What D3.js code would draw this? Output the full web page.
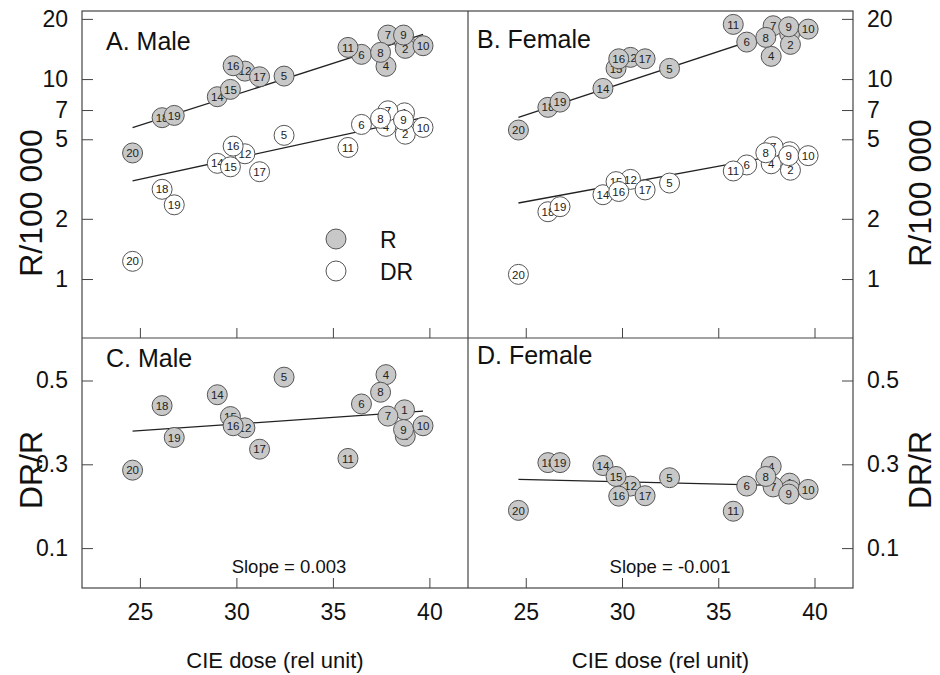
<!DOCTYPE html>
<html>
<head>
<meta charset="utf-8">
<script src="https://cdn.jsdelivr.net/npm/d3@7"></script>
<style>
  body { margin: 0; background: #fff; }
  svg { font-family: "Liberation Sans", Arial, sans-serif; }
  .tick line { stroke: #444; stroke-width: 1; }
  .tick text { fill: #111; }
</style>
</head>
<body>
<div id="chart"></div>
<script>
// region numbers and CIE dose (rel unit)
var region = [1, 2, 4, 5, 6, 7, 8, 9, 10, 11, 12, 14, 15, 16, 17, 18, 19, 20];
var dose = [38.71, 38.75, 37.75, 32.47, 36.48, 37.85, 37.47, 38.66, 39.67, 35.78, 30.44, 29.01, 29.69, 29.83, 31.2, 26.15, 26.78, 24.62];

// R/100 000
var maleR = [15.37, 14.24, 11.58, 10.35, 13.29, 16.6, 13.6, 16.6, 14.68, 14.4, 10.96, 8.16, 8.88, 11.66, 10.27, 6.41, 6.58, 4.27];
var maleDR = [6.78, 5.3, 5.8, 5.23, 5.93, 6.94, 6.36, 6.24, 5.73, 4.55, 4.23, 3.79, 3.64, 4.62, 3.44, 2.81, 2.35, 1.226];
var femaleR = [16.9, 14.91, 12.99, 11.31, 15.31, 18.48, 16.16, 18.26, 17.78, 18.77, 12.84, 8.98, 11.31, 12.63, 12.63, 7.22, 7.67, 5.56];
var femaleDR = [4.33, 3.5, 3.77, 3.02, 3.72, 4.59, 4.28, 4.14, 4.14, 3.47, 3.15, 2.64, 3.07, 2.74, 2.79, 2.17, 2.3, 1.055];

// DR/R
var maleRatio = [0.43, 0.367, 0.514, 0.508, 0.444, 0.415, 0.472, 0.383, 0.392, 0.314, 0.387, 0.466, 0.414, 0.392, 0.336, 0.44, 0.364, 0.286];
var femaleRatio = [0.255, 0.238, 0.295, 0.268, 0.248, 0.246, 0.271, 0.229, 0.24, 0.188, 0.248, 0.297, 0.271, 0.224, 0.225, 0.304, 0.304, 0.19];

// regression lines (value at both ends of fitDose)
var fitDose = [24.62, 39.67];
var fitMaleR = [5.71, 16.73];
var fitMaleDR = [3.1, 6.41];
var fitFemaleR = [6.44, 19.3];
var fitFemaleDR = [2.4, 4.43];
var fitMaleRatio = [0.379, 0.427];
var fitFemaleRatio = [0.264, 0.2476];

var xTicks = [25, 30, 35, 40];
var rateTicks = [1, 2, 5, 7, 10, 20];
var ratioTicks = [0.1, 0.3, 0.5];

var width = 940, height = 675;
var padL = 82, padMid = 468, padR = 853, padT = 11, padMidY = 338, padB = 588;

var svg = d3.select("#chart")
  .append("svg")
  .attr("width", width)
  .attr("height", height)
  .style("background", "#fff");

var xL = d3.scaleLinear().domain([22, 42]).range([padL, padMid]);
var xR = d3.scaleLinear().domain([22, 42]).range([padMid, padR]);
var yTop = d3.scaleLog().domain([0.507, 21.9]).range([padMidY, padT]);
var yBot = d3.scaleLinear().domain([0, 0.6]).range([590, 338.6]);

var greyFill = "#c8c8c8";

var panels = [
  { x: xL, y: yTop, label: "A. Male", lx: 106, ly: 50,
    series: [{ v: maleR, fill: greyFill }, { v: maleDR, fill: "#fff" }],
    fits: [fitMaleR, fitMaleDR] },
  { x: xR, y: yTop, label: "B. Female", lx: 477, ly: 48,
    series: [{ v: femaleR, fill: greyFill }, { v: femaleDR, fill: "#fff" }],
    fits: [fitFemaleR, fitFemaleDR] },
  { x: xL, y: yBot, label: "C. Male", lx: 106, ly: 367, slope: "Slope = 0.003", sx: 289,
    series: [{ v: maleRatio, fill: greyFill }],
    fits: [fitMaleRatio] },
  { x: xR, y: yBot, label: "D. Female", lx: 477, ly: 364, slope: "Slope = -0.001", sx: 670,
    series: [{ v: femaleRatio, fill: greyFill }],
    fits: [fitFemaleRatio] }
];

// frames
svg.append("rect")
  .attr("x", padL).attr("y", padT)
  .attr("width", padR - padL).attr("height", padB - padT)
  .attr("fill", "none").attr("stroke", "#444").attr("stroke-width", 1.2);
svg.append("line")
  .attr("x1", padMid).attr("x2", padMid).attr("y1", padT).attr("y2", padB)
  .attr("stroke", "#444").attr("stroke-width", 1.2);
svg.append("line")
  .attr("x1", padL).attr("x2", padR).attr("y1", padMidY).attr("y2", padMidY)
  .attr("stroke", "#444").attr("stroke-width", 1.2);

// y axes, ticks pointing inwards
function yAxis(axis, scale, ticks, xpos, fmt) {
  var g = svg.append("g")
    .attr("transform", "translate(" + xpos + ",0)")
    .call(axis(scale).tickValues(ticks).tickSizeInner(-11).tickSizeOuter(0)
      .tickPadding(14).tickFormat(fmt))
    .style("font-size", "23px");
  g.select(".domain").remove();
  g.selectAll("text").attr("font-family", "Liberation Sans, Arial, sans-serif");
}
yAxis(d3.axisLeft, yTop, rateTicks, padL, d3.format("d"));
yAxis(d3.axisRight, yTop, rateTicks, padR, d3.format("d"));
yAxis(d3.axisLeft, yBot, ratioTicks, padL, d3.format(".1f"));
yAxis(d3.axisRight, yBot, ratioTicks, padR, d3.format(".1f"));

// x axes
[xL, xR].forEach(function(sc) {
  var g = svg.append("g")
    .attr("transform", "translate(0," + padB + ")")
    .call(d3.axisBottom(sc).tickValues(xTicks).tickSizeInner(-10).tickSizeOuter(0).tickPadding(16))
    .style("font-size", "23px");
  g.select(".domain").remove();
  g.selectAll("text").attr("font-family", "Liberation Sans, Arial, sans-serif");

  var g2 = svg.append("g")
    .attr("transform", "translate(0," + padMidY + ")")
    .call(d3.axisBottom(sc).tickValues(xTicks).tickSizeInner(-10).tickSizeOuter(0).tickFormat(""));
  g2.select(".domain").remove();

  svg.append("text")
    .attr("x", (sc.range()[0] + sc.range()[1]) / 2)
    .attr("y", 668)
    .attr("text-anchor", "middle")
    .style("font-size", "22px")
    .attr("fill", "#111")
    .text("CIE dose (rel unit)");
});

// axis titles
function yTitle(x, y, txt) {
  svg.append("text")
    .attr("transform", "translate(" + x + "," + y + ") rotate(-90)")
    .attr("text-anchor", "middle")
    .style("font-size", "32px")
    .attr("fill", "#111")
    .text(txt);
}
yTitle(42, 203, "R/100 000");
yTitle(42, 470, "DR/R");
yTitle(931, 193, "R/100 000");
yTitle(931, 470, "DR/R");

var line = d3.line();

panels.forEach(function(p) {
  var g = svg.append("g");

  p.fits.forEach(function(f) {
    g.append("path")
      .attr("d", line(fitDose.map(function(d, i) { return [p.x(d), p.y(f[i])]; })))
      .attr("fill", "none")
      .attr("stroke", "#222")
      .attr("stroke-width", 1.3);
  });

  p.series.forEach(function(s) {
    var pts = g.selectAll(null)
      .data(region.map(function(r, i) { return { r: r, d: dose[i], v: s.v[i] }; }))
      .enter()
      .append("g")
      .attr("transform", function(d) { return "translate(" + p.x(d.d) + "," + p.y(d.v) + ")"; });
    pts.append("circle")
      .attr("r", 10)
      .attr("fill", s.fill)
      .attr("stroke", "#555")
      .attr("stroke-width", 1);
    pts.append("text")
      .attr("text-anchor", "middle")
      .attr("dy", "0.36em")
      .style("font-size", "11.5px")
      .attr("fill", "#222")
      .text(function(d) { return d.r; });
  });

  g.append("text")
    .attr("x", p.lx).attr("y", p.ly)
    .style("font-size", "25px")
    .attr("fill", "#111")
    .text(p.label);

  if (p.slope) {
    g.append("text")
      .attr("x", p.sx).attr("y", 573)
      .attr("text-anchor", "middle")
      .style("font-size", "18.5px")
      .attr("fill", "#111")
      .text(p.slope);
  }
});

// legend in panel A
var legend = [{ name: "R", fill: greyFill, cy: 239 }, { name: "DR", fill: "#fff", cy: 271 }];
var lg = svg.append("g").selectAll("g").data(legend).enter().append("g");
lg.append("circle")
  .attr("cx", 336).attr("cy", function(d) { return d.cy; })
  .attr("r", 10)
  .attr("fill", function(d) { return d.fill; })
  .attr("stroke", "#555");
lg.append("text")
  .attr("x", 380).attr("y", function(d) { return d.cy + 8.5; })
  .style("font-size", "23px")
  .attr("fill", "#111")
  .text(function(d) { return d.name; });
</script>
</body>
</html>
